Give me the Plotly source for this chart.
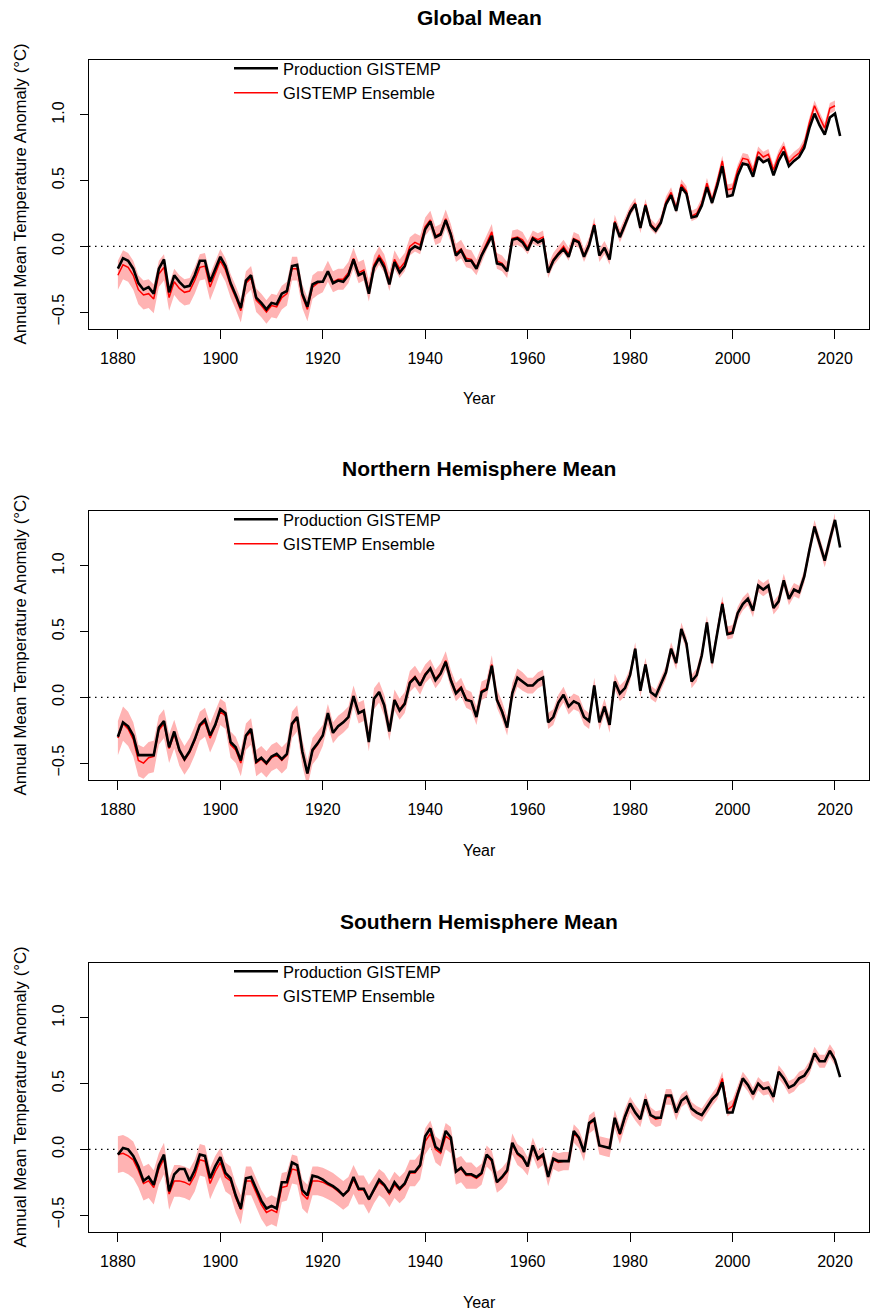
import plotly.graph_objects as go

# ---------------- data ----------------
years_prod = list(range(1880, 2022))
years_ens = list(range(1880, 2021))

panel_titles = ["Global Mean", "Northern Hemisphere Mean", "Southern Hemisphere Mean"]
legend_labels = ["Production GISTEMP", "GISTEMP Ensemble"]
x_tick_vals = [1880, 1900, 1920, 1940, 1960, 1980, 2000, 2020]
y_tick_vals = [-0.5, 0.0, 0.5, 1.0]
y_tick_text = ["\u22120.5", "0.0", "0.5", "1.0"]

glb_prod = [-0.17, -0.09, -0.11, -0.17, -0.28, -0.33, -0.31, -0.36, -0.17, -0.10,
            -0.35, -0.22, -0.27, -0.31, -0.30, -0.22, -0.11, -0.11, -0.27, -0.17,
            -0.08, -0.15, -0.28, -0.37, -0.47, -0.26, -0.22, -0.39, -0.43, -0.48,
            -0.43, -0.44, -0.36, -0.34, -0.15, -0.14, -0.36, -0.46, -0.29, -0.27,
            -0.27, -0.19, -0.28, -0.26, -0.27, -0.22, -0.10, -0.22, -0.20, -0.36,
            -0.16, -0.09, -0.16, -0.29, -0.12, -0.20, -0.15, -0.03, 0.00, -0.02,
            0.13, 0.19, 0.07, 0.09, 0.20, 0.09, -0.07, -0.03, -0.11, -0.11,
            -0.17, -0.07, 0.01, 0.08, -0.13, -0.14, -0.19, 0.05, 0.06, 0.03,
            -0.03, 0.06, 0.03, 0.05, -0.20, -0.11, -0.06, -0.02, -0.08, 0.05,
            0.03, -0.08, 0.01, 0.16, -0.07, -0.01, -0.10, 0.18, 0.07, 0.16,
            0.26, 0.32, 0.14, 0.31, 0.16, 0.12, 0.18, 0.32, 0.39, 0.27,
            0.45, 0.40, 0.22, 0.23, 0.31, 0.45, 0.33, 0.46, 0.61, 0.38,
            0.39, 0.54, 0.63, 0.62, 0.53, 0.68, 0.64, 0.66, 0.54, 0.65,
            0.72, 0.61, 0.65, 0.68, 0.75, 0.90, 1.01, 0.92, 0.85, 0.98,
            1.01, 0.84]

glb_ens = [-0.22, -0.14, -0.16, -0.22, -0.33, -0.37, -0.36, -0.40, -0.21, -0.16,
           -0.39, -0.27, -0.32, -0.35, -0.34, -0.26, -0.16, -0.15, -0.31, -0.21,
           -0.11, -0.18, -0.30, -0.39, -0.49, -0.28, -0.24, -0.41, -0.45, -0.50,
           -0.45, -0.46, -0.39, -0.36, -0.17, -0.17, -0.38, -0.48, -0.31, -0.28,
           -0.27, -0.19, -0.27, -0.25, -0.25, -0.20, -0.09, -0.20, -0.18, -0.34,
           -0.14, -0.07, -0.13, -0.27, -0.10, -0.17, -0.12, 0.00, 0.03, 0.01,
           0.15, 0.20, 0.08, 0.10, 0.21, 0.10, -0.05, -0.02, -0.09, -0.10,
           -0.16, -0.06, 0.03, 0.11, -0.11, -0.13, -0.18, 0.06, 0.07, 0.05,
           -0.01, 0.07, 0.05, 0.07, -0.19, -0.10, -0.05, 0.00, -0.06, 0.06,
           0.04, -0.07, 0.02, 0.17, -0.07, -0.01, -0.09, 0.19, 0.08, 0.17,
           0.27, 0.33, 0.14, 0.32, 0.17, 0.13, 0.19, 0.34, 0.41, 0.29,
           0.47, 0.42, 0.23, 0.25, 0.33, 0.48, 0.35, 0.49, 0.65, 0.43,
           0.44, 0.58, 0.67, 0.66, 0.57, 0.72, 0.68, 0.70, 0.58, 0.69,
           0.76, 0.64, 0.68, 0.71, 0.78, 0.94, 1.07, 0.98, 0.90, 1.05,
           1.07]

glb_hw = [0.11, 0.11, 0.11, 0.11, 0.11, 0.11, 0.11, 0.11, 0.10, 0.10,
          0.10, 0.10, 0.10, 0.10, 0.10, 0.10, 0.10, 0.10, 0.10, 0.10,
          0.09, 0.09, 0.09, 0.09, 0.09, 0.09, 0.09, 0.09, 0.09, 0.09,
          0.09, 0.09, 0.09, 0.09, 0.09, 0.09, 0.09, 0.09, 0.09, 0.09,
          0.08, 0.08, 0.08, 0.08, 0.08, 0.08, 0.08, 0.08, 0.08, 0.08,
          0.07, 0.07, 0.07, 0.07, 0.07, 0.07, 0.07, 0.07, 0.07, 0.07,
          0.07, 0.07, 0.07, 0.07, 0.07, 0.07, 0.07, 0.07, 0.07, 0.07,
          0.06, 0.06, 0.06, 0.06, 0.06, 0.06, 0.06, 0.06, 0.06, 0.06,
          0.05, 0.05, 0.05, 0.05, 0.05, 0.05, 0.05, 0.05, 0.05, 0.05,
          0.05, 0.05, 0.05, 0.05, 0.05, 0.05, 0.05, 0.05, 0.05, 0.05,
          0.04, 0.04, 0.04, 0.04, 0.04, 0.04, 0.04, 0.04, 0.04, 0.04,
          0.04, 0.04, 0.04, 0.04, 0.04, 0.04, 0.04, 0.04, 0.04, 0.04,
          0.04, 0.04, 0.04, 0.04, 0.04, 0.04, 0.04, 0.04, 0.04, 0.04,
          0.04, 0.04, 0.04, 0.04, 0.04, 0.04, 0.04, 0.04, 0.04, 0.04,
          0.04]

nh_prod = [-0.30, -0.19, -0.22, -0.29, -0.44, -0.44, -0.44, -0.44, -0.23, -0.18,
           -0.38, -0.26, -0.40, -0.47, -0.41, -0.32, -0.21, -0.17, -0.29, -0.21,
           -0.09, -0.12, -0.34, -0.38, -0.48, -0.29, -0.24, -0.49, -0.46, -0.50,
           -0.45, -0.43, -0.47, -0.43, -0.20, -0.15, -0.41, -0.58, -0.40, -0.35,
           -0.29, -0.12, -0.27, -0.22, -0.19, -0.15, 0.01, -0.12, -0.10, -0.34,
           -0.01, 0.04, -0.06, -0.26, -0.02, -0.10, -0.05, 0.11, 0.15, 0.09,
           0.17, 0.22, 0.13, 0.18, 0.27, 0.13, 0.03, 0.07, -0.02, -0.03,
           -0.15, 0.04, 0.06, 0.24, -0.02, -0.11, -0.23, 0.03, 0.15, 0.12,
           0.09, 0.09, 0.13, 0.15, -0.19, -0.15, -0.04, 0.02, -0.07, -0.03,
           -0.05, -0.15, -0.18, 0.09, -0.19, -0.07, -0.21, 0.12, 0.03, 0.07,
           0.17, 0.37, 0.05, 0.25, 0.04, 0.01, 0.10, 0.19, 0.37, 0.26,
           0.52, 0.41, 0.12, 0.17, 0.32, 0.57, 0.26, 0.50, 0.71, 0.48,
           0.49, 0.64, 0.71, 0.75, 0.66, 0.85, 0.82, 0.85, 0.68, 0.73,
           0.89, 0.75, 0.82, 0.80, 0.92, 1.12, 1.30, 1.17, 1.04, 1.20,
           1.35, 1.14]

nh_ens = [-0.31, -0.20, -0.24, -0.32, -0.48, -0.50, -0.46, -0.45, -0.25, -0.20,
          -0.39, -0.28, -0.41, -0.48, -0.42, -0.33, -0.22, -0.19, -0.31, -0.22,
          -0.11, -0.14, -0.36, -0.40, -0.50, -0.30, -0.26, -0.50, -0.47, -0.51,
          -0.46, -0.44, -0.48, -0.44, -0.21, -0.16, -0.42, -0.58, -0.41, -0.36,
          -0.29, -0.13, -0.27, -0.22, -0.19, -0.15, 0.01, -0.12, -0.10, -0.33,
          -0.01, 0.04, -0.06, -0.25, -0.02, -0.09, -0.04, 0.12, 0.16, 0.10,
          0.18, 0.22, 0.14, 0.19, 0.28, 0.14, 0.04, 0.08, -0.01, -0.03,
          -0.14, 0.05, 0.07, 0.25, -0.01, -0.10, -0.22, 0.04, 0.15, 0.12,
          0.09, 0.09, 0.13, 0.15, -0.18, -0.15, -0.04, 0.02, -0.07, -0.03,
          -0.05, -0.15, -0.18, 0.09, -0.19, -0.07, -0.21, 0.12, 0.03, 0.07,
          0.17, 0.37, 0.05, 0.25, 0.04, 0.01, 0.10, 0.19, 0.37, 0.26,
          0.52, 0.41, 0.12, 0.17, 0.32, 0.57, 0.26, 0.50, 0.72, 0.49,
          0.50, 0.64, 0.71, 0.75, 0.66, 0.85, 0.82, 0.85, 0.68, 0.73,
          0.89, 0.75, 0.82, 0.80, 0.92, 1.12, 1.30, 1.17, 1.04, 1.20,
          1.35]

nh_hw = [0.13, 0.13, 0.13, 0.13, 0.12, 0.12, 0.12, 0.12, 0.11, 0.11,
         0.11, 0.11, 0.11, 0.11, 0.11, 0.11, 0.11, 0.11, 0.11, 0.11,
         0.10, 0.10, 0.10, 0.10, 0.10, 0.10, 0.10, 0.10, 0.10, 0.10,
         0.10, 0.10, 0.10, 0.10, 0.10, 0.10, 0.10, 0.10, 0.10, 0.10,
         0.08, 0.08, 0.08, 0.08, 0.08, 0.08, 0.08, 0.08, 0.08, 0.08,
         0.08, 0.08, 0.08, 0.08, 0.08, 0.08, 0.08, 0.08, 0.08, 0.08,
         0.07, 0.07, 0.07, 0.07, 0.07, 0.07, 0.07, 0.07, 0.07, 0.07,
         0.07, 0.07, 0.07, 0.07, 0.07, 0.07, 0.07, 0.07, 0.07, 0.07,
         0.06, 0.06, 0.06, 0.06, 0.06, 0.06, 0.06, 0.06, 0.06, 0.06,
         0.06, 0.06, 0.06, 0.06, 0.06, 0.06, 0.06, 0.06, 0.06, 0.06,
         0.05, 0.05, 0.05, 0.05, 0.05, 0.05, 0.05, 0.05, 0.05, 0.05,
         0.05, 0.05, 0.05, 0.05, 0.05, 0.05, 0.05, 0.05, 0.05, 0.05,
         0.05, 0.05, 0.05, 0.05, 0.05, 0.05, 0.05, 0.05, 0.05, 0.05,
         0.05, 0.05, 0.05, 0.05, 0.05, 0.05, 0.05, 0.05, 0.05, 0.05,
         0.05]

sh_prod = [-0.04, 0.01, 0.00, -0.05, -0.13, -0.24, -0.21, -0.27, -0.12, -0.04,
           -0.32, -0.19, -0.15, -0.15, -0.24, -0.16, -0.04, -0.05, -0.22, -0.13,
           -0.06, -0.18, -0.22, -0.35, -0.45, -0.22, -0.21, -0.30, -0.39, -0.45,
           -0.43, -0.45, -0.25, -0.25, -0.10, -0.12, -0.31, -0.35, -0.20, -0.21,
           -0.23, -0.26, -0.28, -0.31, -0.35, -0.31, -0.21, -0.30, -0.30, -0.38,
           -0.30, -0.23, -0.27, -0.33, -0.25, -0.30, -0.26, -0.17, -0.17, -0.12,
           0.10, 0.16, 0.02, -0.01, 0.14, 0.09, -0.17, -0.14, -0.19, -0.19,
           -0.21, -0.18, -0.04, -0.08, -0.25, -0.21, -0.16, 0.05, -0.03, -0.06,
           -0.13, 0.03, -0.07, -0.04, -0.21, -0.07, -0.09, -0.09, -0.09, 0.14,
           0.09, -0.02, 0.20, 0.23, 0.03, 0.02, 0.01, 0.24, 0.12, 0.25,
           0.35, 0.28, 0.23, 0.38, 0.26, 0.24, 0.24, 0.41, 0.41, 0.28,
           0.37, 0.40, 0.31, 0.28, 0.26, 0.32, 0.38, 0.42, 0.51, 0.28,
           0.28, 0.42, 0.54, 0.49, 0.42, 0.50, 0.46, 0.47, 0.40, 0.59,
           0.54, 0.47, 0.49, 0.54, 0.56, 0.62, 0.73, 0.67, 0.67, 0.75,
           0.68, 0.55]

sh_ens = [-0.04, -0.03, -0.05, -0.08, -0.16, -0.26, -0.24, -0.29, -0.15, -0.07,
          -0.34, -0.24, -0.24, -0.25, -0.27, -0.20, -0.08, -0.09, -0.26, -0.17,
          -0.10, -0.21, -0.24, -0.37, -0.46, -0.24, -0.24, -0.33, -0.42, -0.48,
          -0.46, -0.48, -0.29, -0.28, -0.15, -0.16, -0.34, -0.38, -0.24, -0.24,
          -0.25, -0.27, -0.29, -0.32, -0.35, -0.32, -0.23, -0.31, -0.31, -0.38,
          -0.31, -0.25, -0.28, -0.34, -0.27, -0.31, -0.27, -0.18, -0.18, -0.13,
          0.06, 0.12, 0.00, -0.03, 0.10, 0.07, -0.17, -0.15, -0.20, -0.20,
          -0.22, -0.19, -0.05, -0.09, -0.25, -0.22, -0.17, 0.04, -0.04, -0.07,
          -0.13, 0.02, -0.08, -0.05, -0.21, -0.08, -0.10, -0.09, -0.09, 0.12,
          0.08, -0.02, 0.19, 0.22, 0.03, 0.02, 0.01, 0.23, 0.11, 0.24,
          0.34, 0.28, 0.23, 0.37, 0.26, 0.23, 0.24, 0.40, 0.40, 0.28,
          0.37, 0.40, 0.31, 0.28, 0.26, 0.32, 0.38, 0.43, 0.54, 0.30,
          0.33, 0.43, 0.54, 0.49, 0.42, 0.50, 0.46, 0.47, 0.40, 0.59,
          0.54, 0.47, 0.49, 0.54, 0.56, 0.62, 0.73, 0.67, 0.67, 0.75,
          0.69]

sh_hw = [0.14, 0.14, 0.14, 0.14, 0.13, 0.13, 0.13, 0.13, 0.12, 0.12,
         0.12, 0.12, 0.12, 0.12, 0.12, 0.12, 0.12, 0.12, 0.12, 0.12,
         0.11, 0.11, 0.11, 0.11, 0.11, 0.11, 0.11, 0.11, 0.11, 0.11,
         0.11, 0.11, 0.11, 0.11, 0.11, 0.11, 0.11, 0.11, 0.11, 0.11,
         0.11, 0.11, 0.11, 0.11, 0.11, 0.11, 0.11, 0.11, 0.11, 0.11,
         0.10, 0.10, 0.10, 0.10, 0.10, 0.10, 0.10, 0.10, 0.10, 0.10,
         0.10, 0.10, 0.10, 0.10, 0.10, 0.10, 0.10, 0.10, 0.10, 0.10,
         0.08, 0.08, 0.08, 0.08, 0.08, 0.08, 0.08, 0.08, 0.08, 0.08,
         0.07, 0.07, 0.07, 0.07, 0.07, 0.07, 0.07, 0.07, 0.07, 0.07,
         0.07, 0.07, 0.07, 0.07, 0.07, 0.07, 0.07, 0.07, 0.07, 0.07,
         0.06, 0.06, 0.06, 0.06, 0.06, 0.06, 0.06, 0.06, 0.06, 0.06,
         0.05, 0.05, 0.05, 0.05, 0.05, 0.05, 0.05, 0.05, 0.05, 0.05,
         0.05, 0.05, 0.05, 0.05, 0.05, 0.05, 0.05, 0.05, 0.05, 0.05,
         0.05, 0.05, 0.05, 0.05, 0.05, 0.05, 0.05, 0.05, 0.05, 0.05,
         0.05]

panels = [
    (glb_prod, glb_ens, glb_hw),
    (nh_prod, nh_ens, nh_hw),
    (sh_prod, sh_ens, sh_hw),
]

# ---------------- layout geometry ----------------
W, H = 870, 1311
FONT = "Liberation Sans, Arial, Helvetica, sans-serif"
plot_left, plot_right = 89, 869
panel_tops = [60, 511, 963]
panel_h = 269
BAND = "#FFB3B3"

fig = go.Figure()
layout = dict(
    width=W, height=H,
    margin=dict(l=0, r=0, t=0, b=0, autoexpand=False),
    paper_bgcolor="white", plot_bgcolor="white",
    font=dict(family=FONT, size=16, color="black"),
    showlegend=True,
    annotations=[], shapes=[],
)

for i, (prod, ens, hw) in enumerate(panels):
    k = "" if i == 0 else str(i + 1)
    xa, ya = "x" + k, "y" + k
    lg = "legend" + k
    upper = [e + h for e, h in zip(ens, hw)]
    lower = [e - h for e, h in zip(ens, hw)]
    fig.add_trace(go.Scatter(
        x=years_ens + years_ens[::-1], y=upper + lower[::-1],
        fill="toself", fillcolor=BAND, line=dict(width=0, color=BAND),
        mode="lines", hoverinfo="skip", showlegend=False,
        xaxis=xa, yaxis=ya))
    fig.add_trace(go.Scatter(
        x=years_ens, y=ens, mode="lines", name=legend_labels[1],
        line=dict(color="#FF0000", width=1.5), legend=lg, legendrank=2,
        xaxis=xa, yaxis=ya))
    fig.add_trace(go.Scatter(
        x=years_prod, y=prod, mode="lines", name=legend_labels[0],
        line=dict(color="black", width=2.6), legend=lg, legendrank=1,
        xaxis=xa, yaxis=ya))

    top = panel_tops[i]
    bottom = top + panel_h
    layout["xaxis" + k] = dict(
        domain=[plot_left / W, plot_right / W],
        range=[1874.36, 2026.64], anchor=ya,
        tickmode="array", tickvals=x_tick_vals,
        ticks="outside", ticklen=9, tickwidth=1, tickcolor="black",
        showline=True, linecolor="black", linewidth=1, mirror=True,
        showgrid=False, zeroline=False,
        tickfont=dict(size=16, family=FONT), ticklabelstandoff=6,
    )
    layout["yaxis" + k] = dict(
        domain=[1 - bottom / H, 1 - top / H],
        range=[-0.629, 1.418], anchor=xa,
        tickmode="array", tickvals=y_tick_vals, ticktext=y_tick_text,
        tickangle=-90,
        ticks="outside", ticklen=8, tickwidth=1, tickcolor="black",
        showline=True, linecolor="black", linewidth=1, mirror=True,
        showgrid=False, zeroline=False,
        tickfont=dict(size=16, family=FONT), ticklabelstandoff=10,
    )
    layout[lg] = dict(
        x=229 / W, y=1 - (top - 9) / H, xanchor="left", yanchor="top",
        bgcolor="rgba(0,0,0,0)", borderwidth=0,
        font=dict(size=16.5, family=FONT), tracegroupgap=0,
        itemwidth=44,
    )
    layout["shapes"].append(dict(
        type="line", xref=xa + " domain", x0=0, x1=1, yref=ya, y0=0, y1=0,
        line=dict(color="black", width=1.2, dash="1.5px,4.5px"), layer="below"))
    layout["annotations"].append(dict(
        text="<b>" + panel_titles[i] + "</b>", xref=xa + " domain", yref=ya + " domain",
        x=0.5, y=1, yshift=42, xanchor="center", yanchor="middle", showarrow=False,
        font=dict(size=21, family=FONT)))
    layout["annotations"].append(dict(
        text="Year", xref=xa + " domain", yref=ya + " domain",
        x=0.5, y=0, yshift=-70, xanchor="center", yanchor="middle", showarrow=False,
        font=dict(size=16, family=FONT)))
    layout["annotations"].append(dict(
        text="Annual Mean Temperature Anomaly (\u00b0C)", xref=xa + " domain",
        yref=ya + " domain", x=0, xshift=-69, y=0.5, textangle=-90,
        xanchor="center", yanchor="middle", showarrow=False,
        font=dict(size=16.8, family=FONT)))

fig.update_layout(**layout)
fig.write_html("out.html", config={"displayModeBar": False},
               post_script="document.body.style.margin='0';")
